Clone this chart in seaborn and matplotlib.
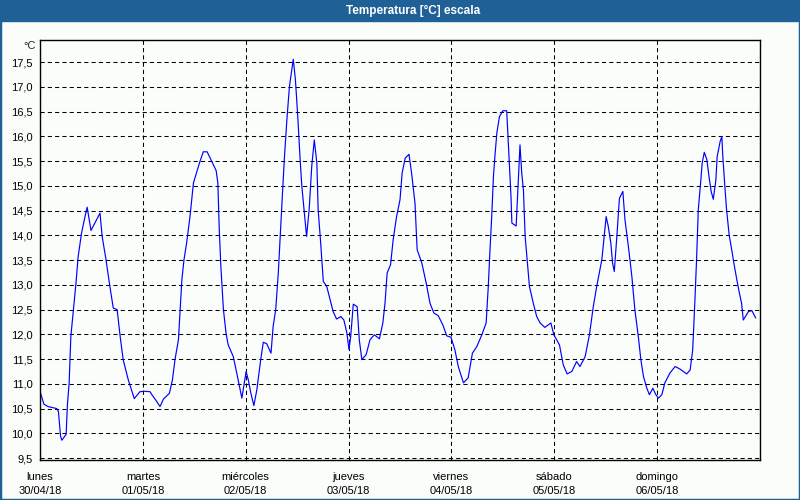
import matplotlib
matplotlib.use("Agg")
import matplotlib.pyplot as plt
from matplotlib.patches import Rectangle
import seaborn as sns
import numpy as np
import pandas as pd

# Hours since Monday 30/04/18 00:00 and temperature (°C)
hours = [
    0.0, 0.9, 1.9, 3.9, 4.3, 4.8, 5.1, 6.1, 6.4, 6.8, 7.2, 7.8, 8.4, 8.9, 9.7,
    10.5, 11.0, 11.9, 12.8, 14.0, 14.5, 15.4, 16.3, 17.1, 18.0, 18.7, 19.4,
    20.6, 22.0, 23.3, 24.3,
    25.7, 26.1, 27.1, 28.0, 28.8, 30.2, 30.9, 31.5, 32.3, 32.7, 33.1, 33.6,
    34.2, 35.0, 35.8, 36.6, 37.3, 38.1, 39.0, 40.1, 41.1, 41.5, 41.8, 42.2,
    42.8, 43.4, 43.9, 45.1, 45.9, 47.1,
    48.1, 48.6, 49.2, 49.9, 50.6, 51.5, 52.1, 52.9, 53.9, 54.4, 55.0, 55.6,
    56.0, 56.5, 57.0, 57.6, 58.2, 58.7, 59.1, 59.6, 60.1, 60.7, 61.1, 61.6,
    62.2, 62.8, 63.4, 64.0, 64.6, 64.9, 65.5, 66.1, 66.9, 67.7, 68.4, 69.2,
    70.2, 70.9, 71.6, 72.1,
    72.5, 73.1, 74.0, 74.5, 75.1, 76.1, 77.0, 78.0, 79.2, 80.0, 80.5, 81.0,
    81.8, 82.4, 83.2, 84.0, 84.5, 85.2, 86.1, 86.7, 87.5, 88.0, 89.1, 90.1,
    91.0, 91.9, 92.9, 94.0, 94.9, 95.9,
    96.8, 97.6, 98.8, 99.9, 100.9, 101.9, 103.1, 104.1, 104.6, 105.0, 105.4,
    105.8, 106.2, 106.6, 107.2, 108.0, 108.9, 109.4, 109.9, 110.1, 111.1,
    111.5, 112.0, 112.4, 112.8, 113.2, 114.2, 115.1, 115.9, 116.7, 117.8,
    119.2,
    119.9, 121.2, 122.1, 123.0, 124.1, 125.2, 126.0, 127.2, 128.2, 129.1,
    129.9, 131.1, 131.6, 132.1, 132.6, 133.2, 133.6, 134.0, 134.6, 135.2,
    136.0, 136.5, 137.3, 138.1, 138.8, 139.6, 140.2, 140.8, 141.6, 142.2,
    143.0, 143.7,
    144.3, 145.1, 145.8, 147.0, 148.2, 149.3, 150.9, 151.7, 152.3, 152.8,
    153.2, 153.6, 154.2, 154.5, 155.0, 155.6, 156.1, 156.6, 157.1, 157.7,
    158.0, 158.7, 159.1, 159.3, 159.8, 160.2, 160.8, 161.4, 161.9, 162.6,
    163.2, 163.7, 164.1, 164.6, 165.3, 166.1, 167.0,
]
temps = [
    10.85, 10.59, 10.54, 10.50, 10.44, 9.94, 9.86, 9.98, 10.58, 11.02, 11.96,
    12.50, 13.04, 13.57, 14.05, 14.38, 14.57, 14.10, 14.25, 14.45, 13.98,
    13.51, 12.97, 12.53, 12.50, 11.96, 11.49, 11.08, 10.70, 10.84, 10.85,
    10.84, 10.78, 10.66, 10.54, 10.69, 10.81, 11.08, 11.49, 11.89, 12.50,
    13.10, 13.51, 13.84, 14.38, 15.06, 15.29, 15.49, 15.69, 15.69, 15.49,
    15.31, 15.06, 14.18, 13.37, 12.50, 12.03, 11.79, 11.55, 11.22, 10.71,
    11.25, 11.08, 10.81, 10.56, 10.88, 11.49, 11.84, 11.81, 11.62, 12.16,
    12.50, 13.24, 13.91, 14.72, 15.53, 16.33, 17.01, 17.31, 17.56, 17.14,
    16.47, 15.53, 14.99, 14.52, 13.98, 14.52, 15.39, 15.93, 15.46, 14.52,
    13.84, 13.07, 12.97, 12.70, 12.46, 12.31, 12.36, 12.29, 12.03, 11.69,
    11.96, 12.61, 12.56, 11.89, 11.49, 11.59, 11.89, 11.99, 11.91, 12.23,
    12.63, 13.24, 13.41, 13.91, 14.38, 14.72, 15.26, 15.56, 15.64, 15.26,
    14.65, 13.71, 13.44, 13.04, 12.63, 12.43, 12.38, 12.19, 11.97, 11.94,
    11.69, 11.35, 11.02, 11.12, 11.62, 11.75, 11.99, 12.23, 12.97, 13.71,
    14.38, 15.19, 15.66, 16.07, 16.40, 16.52, 16.52, 15.66, 14.78, 14.25,
    14.19, 14.92, 15.83, 15.26, 14.92, 13.98, 12.97, 12.63, 12.36, 12.23,
    12.14, 12.23,
    11.99, 11.79, 11.38, 11.20, 11.25, 11.45, 11.35, 11.55, 11.99, 12.56,
    12.97, 13.51, 13.94, 14.38, 14.18, 13.84, 13.44, 13.27, 13.98, 14.75,
    14.89, 14.31, 13.77, 13.17, 12.50, 11.96, 11.49, 11.15, 10.91, 10.78,
    10.91, 10.78,
    10.71, 10.78, 11.02, 11.22, 11.35, 11.30, 11.20, 11.28, 11.69, 12.66,
    13.51, 14.52, 15.12, 15.46, 15.68, 15.53, 15.19, 14.89, 14.73, 15.12,
    15.59, 15.90, 16.00, 15.63, 14.99, 14.52, 14.01, 13.71, 13.44, 13.10,
    12.83, 12.63, 12.29, 12.36, 12.46, 12.48, 12.33,
]

day_names = ["lunes", "martes", "miércoles", "jueves", "viernes", "sábado", "domingo"]
day_dates = ["30/04/18", "01/05/18", "02/05/18", "03/05/18", "04/05/18", "05/05/18", "06/05/18"]
y_ticks = [9.5, 10.0, 10.5, 11.0, 11.5, 12.0, 12.5, 13.0, 13.5, 14.0, 14.5,
           15.0, 15.5, 16.0, 16.5, 17.0, 17.5]

start = pd.Timestamp("2018-04-30")
df = pd.DataFrame({
    "fecha": start + pd.to_timedelta(hours, unit="h"),
    "temp": temps,
})

sns.set_style("white")
plt.rcParams["font.family"] = ["Liberation Sans", "DejaVu Sans"]

bg = "#fbfdfb"
blue = "#1f6096"

fig = plt.figure(figsize=(8, 5), dpi=100, facecolor=bg)
ax = fig.add_axes([0.05, 0.08, 0.90, 0.84])
ax.set_facecolor(bg)

sns.lineplot(data=df, x="fecha", y="temp", ax=ax, color="#0000ff",
             linewidth=0.85, estimator=None)

day_ticks = pd.date_range(start, periods=8, freq="D")
ax.set_xlim(day_ticks[0], day_ticks[-1])
ax.set_ylim(9.46, 17.95)

ax.set_xticks(day_ticks)
ax.set_xticklabels([f"{n}\n{d}" for n, d in zip(day_names, day_dates)] + [""],
                   fontsize=8, linespacing=1.5)
ax.set_yticks(y_ticks)
ax.set_yticklabels([f"{v:.1f}".replace(".", ",") for v in y_ticks], fontsize=8)
ax.tick_params(axis="both", length=3, width=0.8, color="black", pad=2,
               labelcolor="black")
ax.tick_params(axis="x", pad=6)
ax.set_xlabel("")
ax.set_ylabel("")

ax.grid(True, color="black", linestyle=(0, (4, 3)), linewidth=0.75)
for s in ax.spines.values():
    s.set_color("black")
    s.set_linewidth(1)

# unit label above the y tick labels
ax.text(-0.006, 0.985, "°C", transform=ax.transAxes, ha="right", va="center",
        fontsize=8)

# title bar and outer frame
fig.patches.append(Rectangle((0, 1 - 21 / 500), 1, 21 / 500,
                             transform=fig.transFigure, color=blue, zorder=0))
fig.patches.append(Rectangle((0, 0), 1, 1, transform=fig.transFigure,
                             fill=False, edgecolor=blue, linewidth=2.5, zorder=5))
fig.text(0.516, 1 - 10.5 / 500, "Temperatura [°C] escala", color="white",
         fontsize=8.5, fontweight="bold", ha="center", va="center")

fig.savefig("out.png", dpi=100, facecolor=fig.get_facecolor())
